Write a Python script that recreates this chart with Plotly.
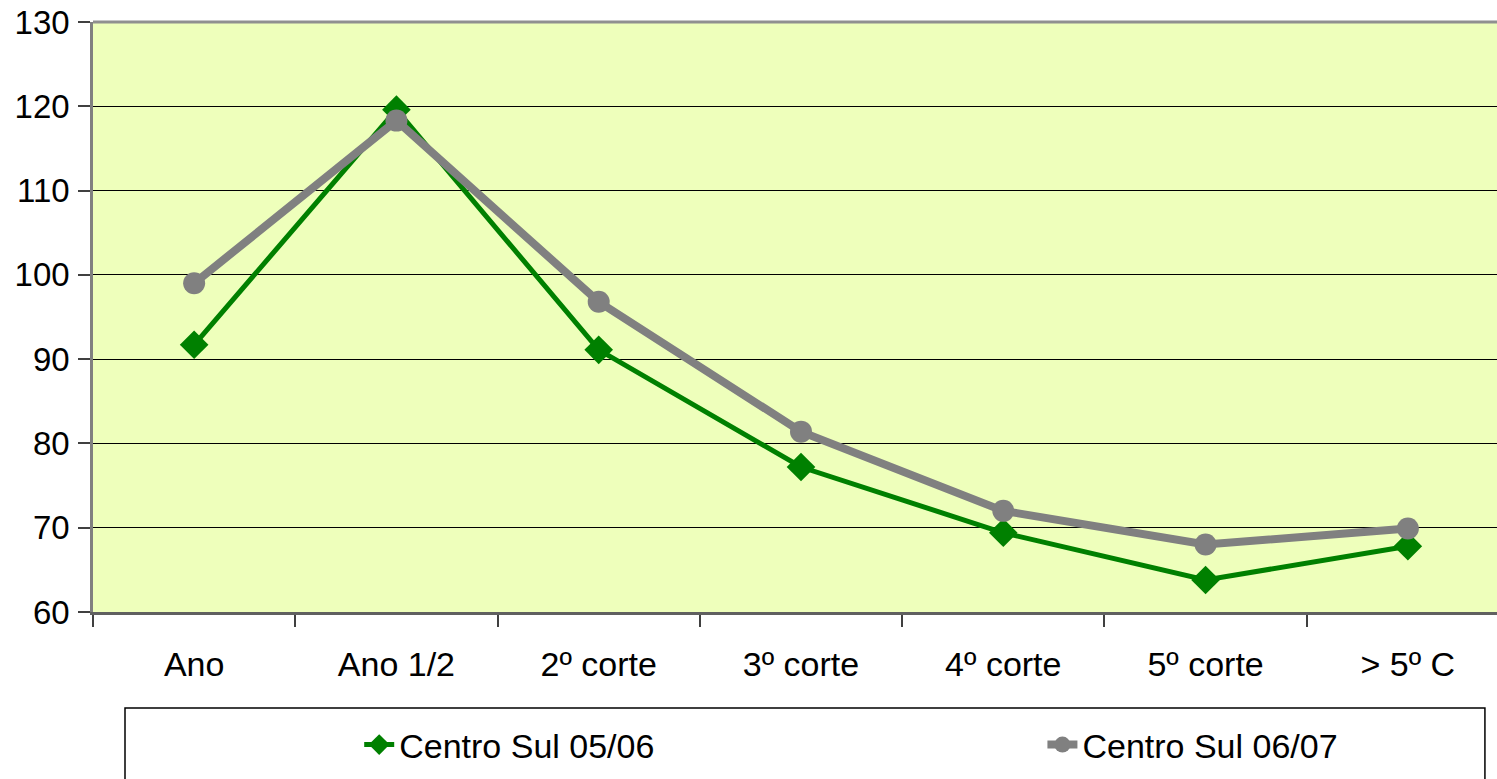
import plotly.graph_objects as go

# categories and series
categorias = ["Ano", "Ano 1/2", "2º corte", "3º corte", "4º corte", "5º corte", "> 5º C"]
cs_0506 = [91.7, 119.6, 91.1, 77.2, 69.4, 63.8, 67.8]
cs_0607 = [99.0, 118.3, 96.8, 81.4, 72.0, 68.0, 69.9]
y_ticks = [60, 70, 80, 90, 100, 110, 120, 130]

FONT = "Liberation Sans, Arial, sans-serif"

fig = go.Figure()

fig.add_trace(go.Scatter(x=categorias, y=cs_0506, name="Centro Sul 05/06",
                         mode="lines+markers", legend="legend",
                         line=dict(color="#008000", width=5),
                         marker=dict(symbol="diamond", size=22, color="#008000")))

fig.add_trace(go.Scatter(x=categorias, y=cs_0607, name="Centro Sul 06/07",
                         mode="lines+markers", legend="legend2",
                         line=dict(color="#808080", width=8),
                         marker=dict(symbol="circle", size=22, color="#808080")))

# legend frame
fig.add_shape(type="rect", xref="paper", yref="paper",
              x0=0.0226, x1=0.983, y0=-0.1627, y1=-0.32,
              line=dict(color="black", width=1.5), fillcolor="white", layer="below")

leg = dict(orientation="h", xanchor="left", y=-0.2254, yanchor="middle",
           bgcolor="rgba(0,0,0,0)", font=dict(size=34))

# plot area runs a little past the right edge of the window, as in the original
fig.update_layout(
    width=1509, height=779,
    margin=dict(l=93, r=0, t=22, b=167),
    paper_bgcolor="white",
    plot_bgcolor="#EEFFBB",
    font=dict(family=FONT, size=34, color="black"),
    showlegend=True,
    legend=dict(leg, x=0.188),
    legend2=dict(leg, x=0.6705),
    xaxis=dict(type="category", range=[-0.5, 6.5], tickson="boundaries",
               ticks="outside", ticklen=12, tickcolor="#404040", tickwidth=1.5,
               showgrid=False, showline=True, linecolor="#606060", linewidth=2.5,
               ticklabelstandoff=20, automargin=False, fixedrange=True,
               tickfont=dict(size=34)),
    yaxis=dict(range=[60, 130], tickvals=y_ticks, ticks="outside", ticklen=12,
               tickcolor="#404040", tickwidth=1.5, showgrid=True, gridcolor="black",
               gridwidth=1, showline=True, linecolor="#808080", linewidth=2.5,
               zeroline=False, ticklabelstandoff=2, automargin=False,
               ticklabeloverflow="allow", tickfont=dict(size=33)),
)

# top border of plot area
fig.add_shape(type="line", xref="paper", yref="paper", x0=0, x1=1, y0=1, y1=1,
              line=dict(color="#909090", width=3))

# drop the default 8px page margin so the figure sits at the window corner
fig.write_html("out.html", config={"displayModeBar": False},
               post_script="document.body.style.margin='0';"
                           "document.body.style.overflow='hidden';")
